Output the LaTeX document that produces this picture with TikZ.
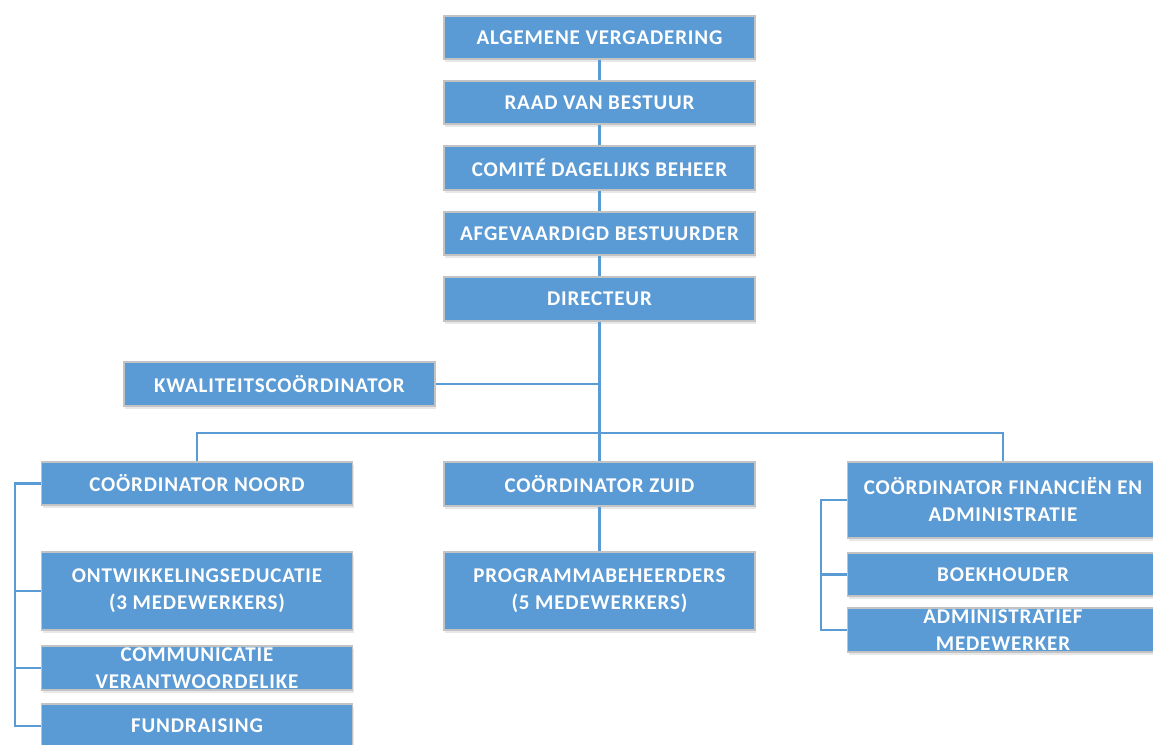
\documentclass[tikz,border=0pt]{standalone}
\usepackage{fontspec}
\setmainfont{Carlito}[LetterSpace=4]
\usetikzlibrary{shadows}
\definecolor{boxblue}{HTML}{5B9BD5}
\definecolor{boxgray}{HTML}{C3C3C3}
\begin{document}
\begin{tikzpicture}[x=1pt,y=-1pt,
  box/.style={draw=boxgray, line width=1.5pt, fill=boxblue, minimum width=311pt,
    text=white, font=\bfseries\fontsize{21}{27}\selectfont, align=center, inner sep=0pt,
    drop shadow={opacity=0.18, shadow xshift=1pt, shadow yshift=-3pt}},
  cliptext/.style={path picture={\node[text=white, font=\bfseries\fontsize{21}{27}\selectfont, align=center] at (path picture bounding box.center) {#1};}},
  conn/.style={draw=boxblue, line width=2.2pt}]
\useasboundingbox (0,0) rectangle (1153,744);
\node[box, minimum height=43pt] (av)   at (599.5,37.5)  {ALGEMENE VERGADERING};
\node[box, minimum height=43pt] (rvb)  at (599.5,102.5) {RAAD VAN BESTUUR};
\node[box, minimum height=44pt] (cdb)  at (599.5,168)   {COMITÉ DAGELIJKS BEHEER};
\node[box, minimum height=43pt] (ab)   at (599.5,233.5) {AFGEVAARDIGD BESTUURDER};
\node[box, minimum height=44pt] (dir)  at (599.5,299)   {DIRECTEUR};
\node[box, minimum height=44pt] (kwal) at (279.5,384)   {KWALITEITSCOÖRDINATOR};
\node[box, minimum height=43pt] (noord) at (197,483.5)  {COÖRDINATOR NOORD};
\node[box, minimum height=44pt] (zuid) at (599.5,484)   {COÖRDINATOR ZUID};
\node[box, minimum height=76pt] (fin)  at (1003,500)    {COÖRDINATOR FINANCIËN EN\\ADMINISTRATIE};
\node[box, minimum height=78pt] (ontw) at (197,591)     {ONTWIKKELINGSEDUCATIE\\(3 MEDEWERKERS)};
\node[box, minimum height=78pt] (prog) at (599.5,591)   {PROGRAMMABEHEERDERS\\(5 MEDEWERKERS)};
\node[box, minimum height=44pt, cliptext={COMMUNICATIE\\VERANTWOORDELIKE}] (comm) at (197,668) {};
\node[box, minimum height=44pt] (fund) at (197,726)     {FUNDRAISING};
\node[box, minimum height=43pt] (boek) at (1003,574.5)  {BOEKHOUDER};
\node[box, minimum height=44pt, cliptext={ADMINISTRATIEF\\MEDEWERKER}] (adm) at (1003,630) {};
\coordinate (bus) at (599.5,433);
\coordinate (lb) at (15,483.5);
\coordinate (rb) at (821,500);
% top chain
\draw[conn] (av) -- (rvb);
\draw[conn] (rvb) -- (cdb);
\draw[conn] (cdb) -- (ab);
\draw[conn] (ab) -- (dir);
\draw[conn] (dir.south) -- (bus);
\draw[conn] (kwal.east) -- (kwal.east -| dir.south);
\draw[conn] (noord.north) -- (noord.north |- bus) -- (fin.north |- bus) -- (fin.north);
\draw[conn] (bus) -- (zuid.north);
\draw[conn] (zuid) -- (prog);
% left bracket
\draw[conn] (noord.west) -- (lb) |- (fund.west);
\draw[conn] (ontw.west) -- (ontw.west -| lb);
\draw[conn] (comm.west) -- (comm.west -| lb);
% right bracket
\draw[conn] (fin.west) -- (rb) |- (adm.west);
\draw[conn] (boek.west) -- (boek.west -| rb);
\end{tikzpicture}
\end{document}
